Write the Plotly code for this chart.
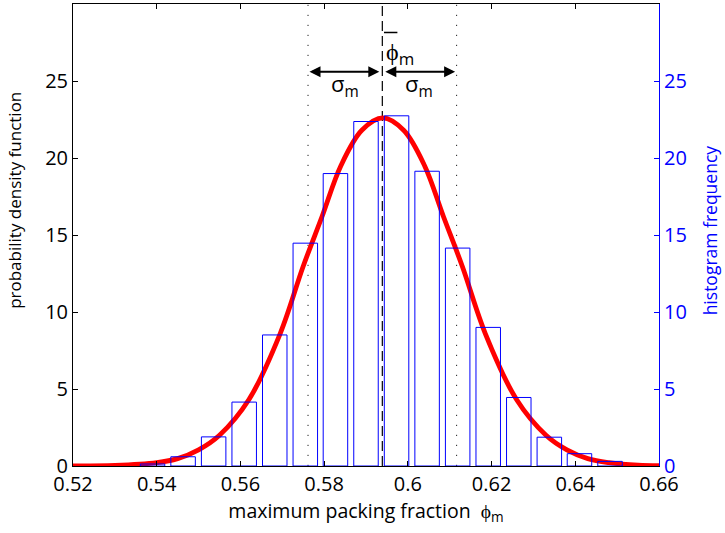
import plotly.graph_objects as go

# histogram
bin_centers = [0.5390, 0.5463, 0.5536, 0.5609, 0.5682, 0.5755, 0.5827, 0.5900,
               0.5973, 0.6046, 0.6119, 0.6192, 0.6265, 0.6338, 0.6410, 0.6483]
bin_counts = [0.13, 0.60, 1.89, 4.15, 8.51, 14.47, 18.99, 22.37,
              22.74, 19.14, 14.15, 9.00, 4.45, 1.87, 0.80, 0.30]
bar_width = 0.00585

# fitted pdf, points
pdf_x = [0.520, 0.530, 0.540, 0.545, 0.550, 0.555, 0.562, 0.5695, 0.575, 0.5795,
         0.584, 0.589, 0.594, 0.599, 0.604, 0.6085, 0.613, 0.6185, 0.626, 0.633,
         0.638, 0.643, 0.648, 0.655, 0.660]
pdf_y = [0.01, 0.04, 0.22, 0.48, 1.05, 2.0, 4.3, 8.6, 12.97, 16.2,
         19.5, 21.8, 22.6, 21.8, 19.5, 16.2, 12.97, 8.6, 4.3, 2.0,
         1.05, 0.48, 0.22, 0.05, 0.02]

phi_mean = 0.5939
phi_sigma = 0.01775

x_ticks = [0.52, 0.54, 0.56, 0.58, 0.60, 0.62, 0.64, 0.66]
x_labels = ['0.52', '0.54', '0.56', '0.58', '0.6', '0.62', '0.64', '0.66']
y_ticks = [0, 5, 10, 15, 20, 25]

FONT = 'Open Sans'
BLUE = '#0000FF'

fig = go.Figure()

fig.add_trace(go.Bar(x=bin_centers, y=bin_counts, width=bar_width, yaxis='y2',
                     marker=dict(color='rgba(0,0,0,0)', line=dict(color=BLUE, width=1))))

# sigma lines (dotted) and mean (dashed)
for xv in [phi_mean - phi_sigma, phi_mean + phi_sigma]:
    fig.add_trace(go.Scatter(x=[xv, xv], y=[0, 30], mode='lines',
                             line=dict(color='#222222', width=1, dash='1.2px,8.8px')))
fig.add_trace(go.Scatter(x=[phi_mean, phi_mean], y=[0, 30], mode='lines',
                         line=dict(color='black', width=1.2, dash='10px,5px')))

fig.add_trace(go.Scatter(x=pdf_x, y=pdf_y, mode='lines', line_shape='spline',
                         line=dict(color='#FF0000', width=4.8)))

# arrows +-sigma
arrow_y = 25.6
for x0 in [phi_mean - phi_sigma, phi_mean + phi_sigma]:
    fig.add_annotation(x=phi_mean, y=arrow_y, ax=x0, ay=arrow_y, axref='x', ayref='y',
                       xref='x', yref='y', text='', showarrow=True, arrowside='end+start',
                       arrowhead=2, startarrowhead=2, arrowsize=1.1, startarrowsize=1.1,
                       arrowwidth=2, arrowcolor='black', standoff=3, startstandoff=0)
    fig.add_annotation(x=(x0 + phi_mean) / 2, y=arrow_y + 0.35, xref='x', yref='y',
                       text='σ<sub>m</sub>', showarrow=False, yanchor='top',
                       font=dict(family=FONT, size=22, color='black'))

fig.add_annotation(x=phi_mean + 0.0003, y=28.2, xref='x', yref='y', xanchor='left',
                   yanchor='top', text='ϕ<sub>m</sub>', showarrow=False,
                   font=dict(family=FONT, size=24, color='black'))
fig.add_shape(type='line', x0=phi_mean + 0.0004, x1=phi_mean + 0.0036, y0=28.15, y1=28.15,
              xref='x', yref='y', line=dict(color='black', width=1.5))

fig.add_annotation(x=-0.099, y=0.576, xref='paper', yref='paper', xanchor='center',
                   yanchor='middle', text='probability density function',
                   textangle=-90, showarrow=False, font=dict(family=FONT, size=17, color='black'))
fig.add_annotation(x=1.087, y=0.51, xref='paper', yref='paper', xanchor='center',
                   yanchor='middle', text='histogram frequency',
                   textangle=-90, showarrow=False, font=dict(family=FONT, size=17.5, color=BLUE))

fig.update_layout(
    width=725, height=533,
    margin=dict(l=73, r=66, t=4, b=67),
    paper_bgcolor='white', plot_bgcolor='white',
    showlegend=False,
    font=dict(family=FONT, size=20, color='black'),
    xaxis=dict(range=[0.52, 0.66], tickvals=x_ticks, ticktext=x_labels,
               ticks='inside', ticklen=5, tickcolor='black', showline=True,
               linecolor='black', linewidth=1, mirror='ticks', showgrid=False,
               zeroline=False, tickfont=dict(size=20),
               title=dict(text='maximum packing fraction  ϕ<sub>m</sub>',
                          font=dict(size=19.5), standoff=4)),
    yaxis=dict(range=[0, 30], tickvals=y_ticks, ticks='inside', ticklen=5,
               tickcolor='black', showline=True, linecolor='black', linewidth=1,
               showgrid=False, zeroline=False, tickfont=dict(size=20)),
    yaxis2=dict(range=[0, 30], tickvals=y_ticks, ticks='inside', ticklen=5,
                overlaying='y', side='right', tickcolor=BLUE, showline=True,
                linecolor=BLUE, linewidth=1, showgrid=False, zeroline=False,
                tickfont=dict(size=20, color=BLUE)),
)

fig.write_html('out.html', config={'displayModeBar': False},
               post_script="document.body.style.margin='0px';")
